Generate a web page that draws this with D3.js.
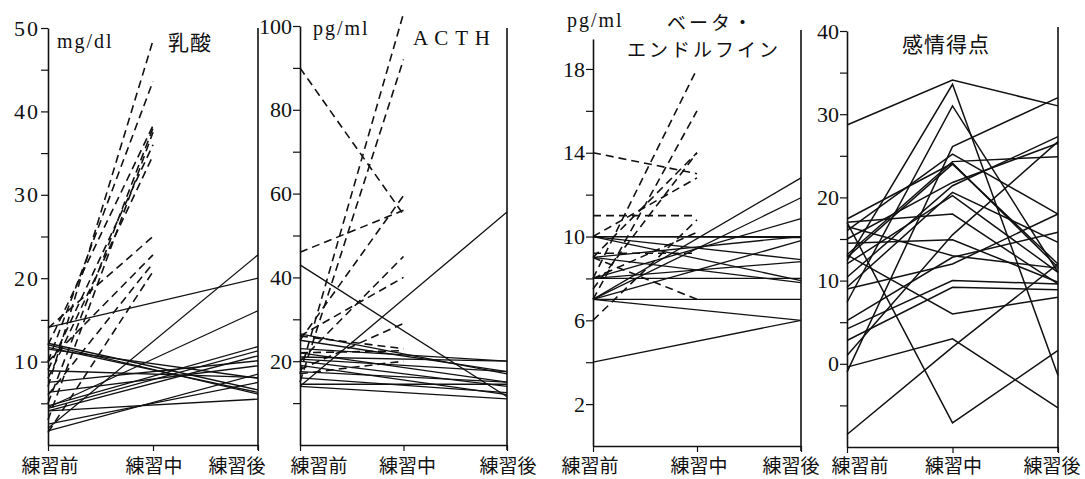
<!DOCTYPE html>
<html>
<head>
<meta charset="utf-8">
<script src="https://cdn.jsdelivr.net/npm/d3@7"></script>
<style>
  body { margin: 0; background: #fff; }
  svg { display: block; }
</style>
</head>
<body>
<div id="chart"></div>
<script>
// 測定時点
const phases = ["練習前", "練習中", "練習後"];

// 乳酸 mg/dl : 破線 = 練習前→練習中, 実線 = 練習前→練習後
const lacticDashed = [[7, 48.5], [10, 43.6], [12, 38.3], [5, 38], [3, 37.5], [9, 36], [8, 34.7],
  [14, 25], [10, 22.8], [6, 21.8], [1.5, 20.8]];
const lacticSolid = [[14.1, 20.0], [2.0, 22.8], [4.5, 16.1], [12.0, 6.1], [11.7, 6.3], [12.2, 6.6],
  [4.7, 11.8], [4.4, 11.3], [4.1, 10.7], [7.5, 10.1], [8.9, 8.1], [6.3, 9.5], [1.7, 8.5],
  [4.1, 5.5], [2.5, 7.5], [11.5, 8.0]];

// ACTH pg/ml
const acthDashed = [[17, 103], [15, 92], [90, 55], [46, 56], [25, 59.5], [20, 45], [26, 40],
  [18, 29], [26, 23], [22, 22.5], [17, 20]];
const acthSolid = [[43, 11.5], [14, 55.6], [26.5, 17], [23, 20], [22, 15], [20.5, 17.5], [20, 14],
  [19, 12], [17.5, 15], [14.5, 14.5], [14, 11], [16, 12.5], [21, 20], [25, 17.5]];

// ベータ・エンドルフイン pg/ml
const endorphinDashed = [[8, 18], [7, 16], [9, 14], [7.5, 14], [14, 13], [10, 12.8], [11, 11],
  [9.2, 9.2], [9, 7], [6, 10.8], [8, 10.2]];
const endorphinSolid = [[7, 12.8], [7, 11.85], [8, 10.85], [10, 10], [10, 9.95], [10, 8.9],
  [10, 7.9], [9, 7.8], [8, 8], [7, 9.8], [7, 7], [7, 6], [4, 6], [8, 8.8], [9, 10]];

// 感情得点 (練習前, 練習中, 練習後)
const emotionScores = [
  [28.7, 34.1, 31.0], [12.4, 33.6, -1.4], [7.4, 31.0, 11.0], [-1.0, 26.1, 32.0],
  [16.0, 25.2, 18.0], [13.1, 24.3, 24.9], [17.4, 24.1, 11.6], [15.0, 21.8, 26.5],
  [10.4, 21.4, 27.3], [9.2, 20.6, 14.6], [12.0, 20.2, 11.0], [17.0, 18.0, 9.6],
  [14.5, 14.9, 9.8], [5.2, 12.8, 15.8], [9.0, 12.0, 18.0], [4.2, 10.0, 9.6],
  [2.8, 9.2, 8.9], [13.1, 6.0, 8.0], [-0.4, 3.0, -5.3], [-8.5, 2.0, 12.0],
  [17.0, -7.1, 1.6], [1.0, 15.5, 26.7], [12.8, 24.0, 12.0], [16.5, 13.0, 11.5]
];

// 軸目盛
const lacticTicks = [5, 10, 15, 20, 25, 30, 35, 40, 45, 50];
const lacticLabels = [10, 20, 30, 40, 50];
const acthTicks = [10, 20, 30, 40, 50, 60, 70, 80, 90, 100];
const acthLabels = [20, 40, 60, 80, 100];
const endorphinTicks = [2, 4, 6, 8, 10, 12, 14, 16, 18];
const endorphinLabels = [2, 6, 10, 14, 18];
const emotionTicks = [-5, 0, 5, 10, 15, 20, 25, 30, 35, 40];
const emotionLabels = [0, 10, 20, 30, 40];

const width = 1085;
const height = 479;

const svg = d3.select('#chart').append('svg')
  .attr('width', width)
  .attr('height', height);

const panels = [
  {
    xr: [48, 258], domain: [0, 50], yr: [445, 28], rightTop: 28,
    ticks: lacticTicks, labels: lacticLabels, tickSpacing: 2,
    dashed: lacticDashed, solid: lacticSolid,
    phaseDx: [2, 1, -21],
    texts: [
      {t: 'mg/dl', x: 57, y: 48, serif: true},
      {t: '乳酸', x: 168, y: 50}
    ]
  },
  {
    xr: [300, 507], domain: [0, 100], yr: [445, 26], rightTop: 28,
    ticks: acthTicks, labels: acthLabels, tickSpacing: 0,
    dashed: acthDashed, solid: acthSolid,
    phaseDx: [19, 4, 1],
    texts: [
      {t: 'pg/ml', x: 313, y: 35, serif: true},
      {t: 'A C T H', x: 413, y: 45, serif: true, big: true}
    ]
  },
  {
    xr: [593, 801], domain: [0, 19.43], yr: [446, 39], rightTop: 30,
    ticks: endorphinTicks, labels: endorphinLabels, tickSpacing: 0,
    dashed: endorphinDashed, solid: endorphinSolid,
    phaseDx: [-3, 2, -10],
    texts: [
      {t: 'pg/ml', x: 567, y: 27, serif: true},
      {t: 'ベータ・', x: 667, y: 30, small: true},
      {t: 'エンドルフイン', x: 627, y: 57, small: true}
    ]
  },
  {
    xr: [847, 1058], domain: [-10, 40], yr: [447, 31], rightTop: 27,
    ticks: emotionTicks, labels: emotionLabels, tickSpacing: 0,
    scores: emotionScores,
    phaseDx: [13, 1, -6],
    texts: [
      {t: '感情得点', x: 902, y: 52}
    ]
  }
];

const ink = '#111';
const serifFont = '"Liberation Serif", "DejaVu Serif", serif';
const cjkFont = '"Noto Sans CJK JP", sans-serif';

panels.forEach(function (p) {
  const x = d3.scalePoint().domain(phases).range(p.xr);
  const y = d3.scaleLinear().domain(p.domain).range(p.yr);
  const g = svg.append('g');

  // 左の縦軸
  const yAxis = d3.axisLeft(y)
    .tickValues(p.ticks)
    .tickSize(7)
    .tickSizeOuter(0)
    .tickPadding(1)
    .tickFormat(d => p.labels.includes(d) ? d : '');
  const ya = g.append('g')
    .attr('transform', `translate(${p.xr[0]},0)`)
    .attr('font-family', serifFont)
    .call(yAxis);
  ya.select('.domain').attr('stroke', ink).attr('stroke-width', 1.6);
  ya.selectAll('.tick line').attr('stroke', ink).attr('stroke-width', 1.2);
  ya.selectAll('.tick text')
    .attr('fill', ink)
    .style('font-family', serifFont)
    .style('font-size', '22px')
    .style('letter-spacing', p.tickSpacing + 'px');

  // 下の横軸
  const xAxis = d3.axisBottom(x)
    .tickSize(6)
    .tickSizeOuter(0)
    .tickFormat('');
  const xa = g.append('g')
    .attr('transform', `translate(0,${p.yr[0]})`)
    .call(xAxis);
  xa.select('.domain').attr('stroke', ink).attr('stroke-width', 1.6);
  xa.selectAll('.tick line').attr('stroke', ink).attr('stroke-width', 1.2);

  // 右の縦線
  g.append('line')
    .attr('x1', p.xr[1]).attr('x2', p.xr[1])
    .attr('y1', p.rightTop).attr('y2', p.yr[0] + 5)
    .attr('stroke', ink).attr('stroke-width', 1.6);

  // 時点ラベル
  g.selectAll('text.phase')
    .data(phases)
    .join('text')
    .attr('class', 'phase')
    .attr('x', (d, i) => x(d) + p.phaseDx[i])
    .attr('y', 473)
    .attr('text-anchor', 'middle')
    .attr('fill', ink)
    .style('font-family', cjkFont)
    .style('font-size', '19px')
    .text(d => d);

  // 単位・タイトル
  p.texts.forEach(function (t) {
    g.append('text')
      .attr('x', t.x).attr('y', t.y)
      .attr('fill', ink)
      .style('font-family', t.serif ? serifFont : cjkFont)
      .style('font-size', t.serif ? (t.big ? '21px' : '20px') : (t.small ? '19px' : '21px'))
      .style('letter-spacing', t.serif && !t.big ? '2px' : (t.small ? '3px' : '1px'))
      .text(t.t);
  });

  const lines = g.append('g').attr('fill', 'none').attr('stroke', ink);

  if (p.scores) {
    const line = d3.line()
      .x((d, i) => x(phases[i]))
      .y(d => y(d));
    lines.selectAll('path')
      .data(p.scores)
      .join('path')
      .attr('d', line)
      .attr('stroke-width', 1.5)
      .attr('stroke-linejoin', 'miter');
    return;
  }

  lines.selectAll('line.solid')
    .data(p.solid)
    .join('line')
    .attr('class', 'solid')
    .attr('x1', x(phases[0])).attr('y1', d => y(d[0]))
    .attr('x2', x(phases[2])).attr('y2', d => y(d[1]))
    .attr('stroke-width', 1.3);

  lines.selectAll('line.dashed')
    .data(p.dashed)
    .join('line')
    .attr('class', 'dashed')
    .attr('x1', x(phases[0])).attr('y1', d => y(d[0]))
    .attr('x2', x(phases[1])).attr('y2', d => y(d[1]))
    .attr('stroke-width', 1.6)
    .attr('stroke-dasharray', '8,5');
});
</script>
</body>
</html>
